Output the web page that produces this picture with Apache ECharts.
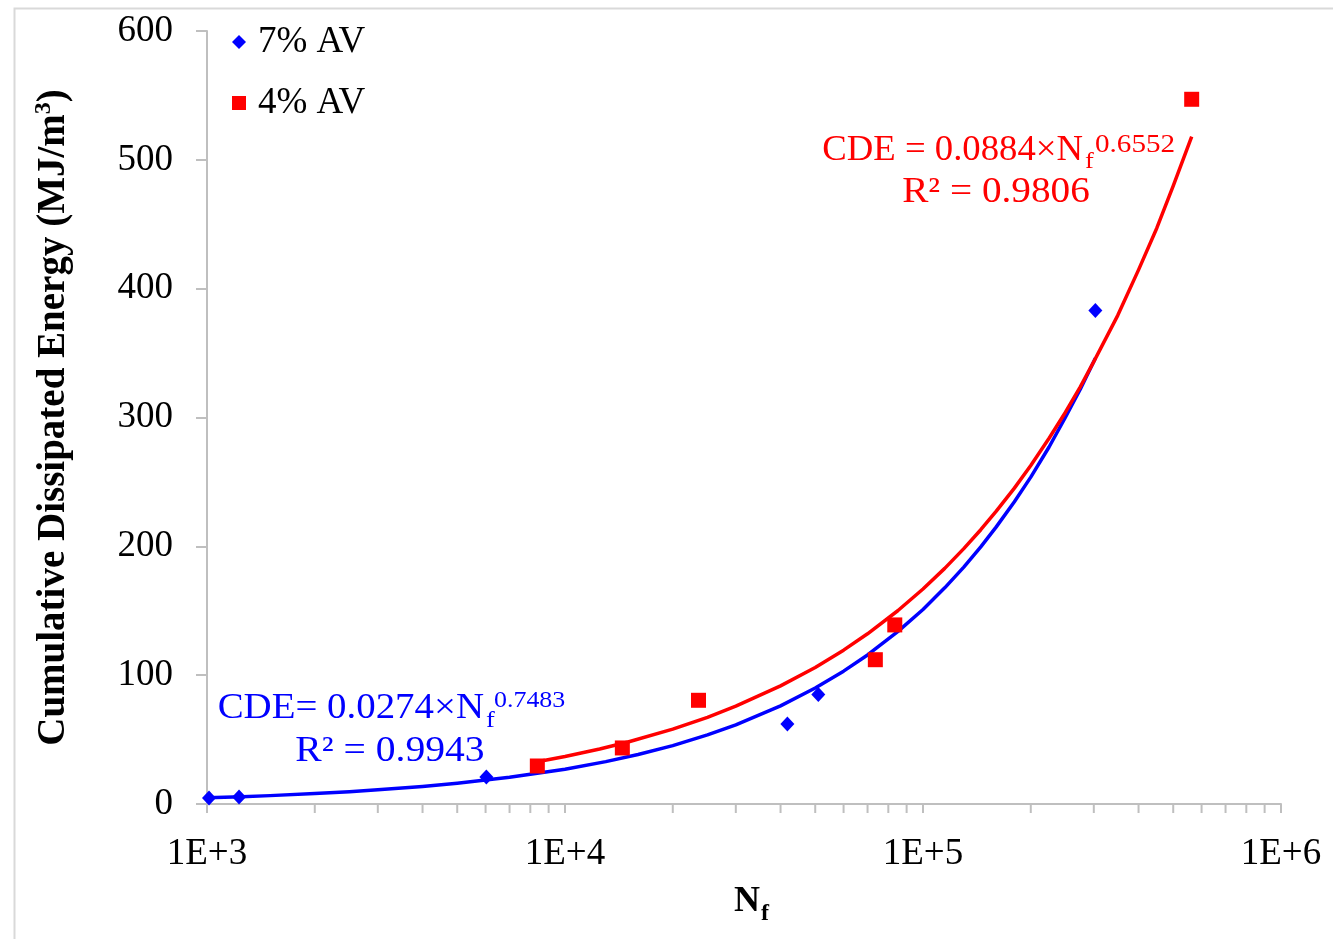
<!DOCTYPE html>
<html>
<head>
<meta charset="utf-8">
<script src="https://cdn.jsdelivr.net/npm/echarts@6/dist/echarts.min.js"></script>
<style>
html,body{margin:0;padding:0;background:#fff;}
#chart{width:1333px;height:939px;}
</style>
</head>
<body>
<div id="chart"></div>
<script>
// ---- data ----
const av7Nf  = [1013, 1229, 6030, 41800, 51000, 303000];
const av7CDE = [4.7, 5.4, 21, 62, 85, 383];
const av4Nf  = [8370, 14460, 23600, 73600, 83400, 563000];
const av4CDE = [29.5, 43.5, 80.5, 112, 139, 547];

// trend curves
const fit7Nf  = [1000, 1250, 1500, 2000, 2500, 3000, 4000, 5000, 7000, 10000, 13000, 16000, 20000, 25000, 30000, 40000, 50000, 60000, 70000, 85000, 100000, 115000, 130000, 145000, 160000, 180000, 200000, 225000, 250000, 275000, 303000];
const fit7CDE = [4.8, 5.7, 6.5, 8.1, 9.6, 11.0, 13.6, 16.1, 20.7, 27.0, 32.9, 38.4, 45.3, 53.6, 61.4, 76.2, 90.0, 103.1, 115.7, 133.8, 151, 167.8, 183.9, 199.6, 214.9, 234.6, 253.7, 277.1, 300.2, 321.9, 346];
const fit4Nf  = [8370, 10000, 12500, 15000, 20000, 25000, 30000, 40000, 50000, 60000, 70000, 85000, 100000, 115000, 130000, 145000, 160000, 180000, 200000, 225000, 250000, 275000, 300000, 350000, 400000, 450000, 500000, 563000];
const fit4CDE = [32.8, 36.9, 42.7, 48.1, 58.1, 67.3, 75.9, 91.7, 106, 119.4, 132.1, 150.0, 166.9, 182.9, 198.2, 212.9, 227.1, 245.2, 262.7, 283.9, 304.1, 323.8, 343.4, 379.3, 414.6, 447.1, 479.7, 518];

const xMajorValues = [1000, 10000, 100000, 1000000];
const xTickLabels  = ['1E+3', '1E+4', '1E+5', '1E+6'];
const xMinorValues = [2000,3000,4000,5000,6000,7000,8000,9000,
                      20000,30000,40000,50000,60000,70000,80000,90000,
                      200000,300000,400000,500000,600000,700000,800000,900000];
const yTicks = [0, 100, 200, 300, 400, 500, 600];

const seriesNames = ['7% AV', '4% AV'];
const fit7Text = {base: 'CDE= 0.0274×N', sub: 'f', sup: '0.7483', r2: 'R² = 0.9943'};
const fit4Text = {base: 'CDE = 0.0884×N', sub: 'f', sup: '0.6552', r2: 'R² = 0.9806'};

// ---- chart ----
const zip = (a, b) => a.map((v, i) => [v, b[i]]);
const FONT = '"Liberation Serif", "Times New Roman", serif';
const AXIS = '#bfbfbf';
const BLUE = '#0000ff', RED = '#ff0000';

const chart = echarts.init(document.getElementById('chart'), null, {renderer: 'canvas'});

function txt(x, y, text, size, color, align, bold, sx) {
  return {type: 'text', x: x, y: y, z: 100, scaleX: sx || 1,
    style: {text: text, fill: color, font: (bold ? 'bold ' : '') + size + 'px ' + FONT,
            textAlign: align, textVerticalAlign: 'middle'}};
}

const option = {
  animation: false,
  backgroundColor: '#fff',
  grid: {left: 207, top: 31, right: 52, bottom: 135, containLabel: false},
  xAxis: {
    type: 'log', logBase: 10, min: 1000, max: 1000000,
    axisLine: {show: true, lineStyle: {color: AXIS, width: 2}},
    axisTick: {show: true, inside: false, length: 9, lineStyle: {color: AXIS, width: 2}},
    minorTick: {show: false},
    splitLine: {show: false},
    axisLabel: {margin: 32, color: '#000', fontFamily: FONT, fontSize: 37,
      formatter: v => { const i = xMajorValues.findIndex(m => Math.abs(m - v) / m < 1e-6); return i >= 0 ? xTickLabels[i] : ''; }}
  },
  yAxis: {
    type: 'value', min: 0, max: 600, interval: 100,
    axisLine: {show: true, lineStyle: {color: AXIS, width: 2}},
    axisTick: {show: true, inside: false, length: 11, lineStyle: {color: AXIS, width: 2}},
    splitLine: {show: false},
    axisLabel: {margin: 34, color: '#000', fontFamily: FONT, fontSize: 37,
      formatter: v => yTicks.includes(v) ? String(v) : ''},
    name: '{b|Cumulative Dissipated Energy (MJ/m}{s|3}{b|)}',
    nameLocation: 'middle', nameRotate: 90, nameGap: 131,
    nameTextStyle: {
      rich: {
        b: {fontFamily: FONT, fontWeight: 'bold', fontSize: 39, color: '#000', lineHeight: 44},
        s: {fontFamily: FONT, fontWeight: 'bold', fontSize: 24, color: '#000', lineHeight: 24, verticalAlign: 'top'}
      }
    }
  },
  legend: {
    orient: 'vertical', left: 227, top: 15, itemGap: 17,
    itemWidth: 14, itemHeight: 14,
    textStyle: {fontFamily: FONT, fontSize: 37, color: '#000', lineHeight: 40, padding: [4, 0, 0, 7]},
    data: [{name: seriesNames[0], icon: 'diamond'}, {name: seriesNames[1], icon: 'rect'}]
  },
  series: [
    {name: 'fit7', type: 'line', data: zip(fit7Nf, fit7CDE), smooth: false, showSymbol: false,
     lineStyle: {color: BLUE, width: 3.5, join: 'round'}, z: 2, silent: true},
    {name: 'fit4', type: 'line', data: zip(fit4Nf, fit4CDE), smooth: false, showSymbol: false,
     lineStyle: {color: RED, width: 3.5, join: 'round'}, z: 2, silent: true},
    {name: seriesNames[0], type: 'scatter', data: zip(av7Nf, av7CDE), symbol: 'diamond', symbolSize: [14, 15],
     itemStyle: {color: BLUE, opacity: 1}, z: 5},
    {name: seriesNames[1], type: 'scatter', data: zip(av4Nf, av4CDE), symbol: 'rect', symbolSize: 15,
     itemStyle: {color: RED, opacity: 1}, z: 5},
    {name: 'minorTicks', type: 'custom', data: xMinorValues.map(v => [v, 0]), clip: false, silent: true, z: 1,
     renderItem: (params, api) => {
       const p = api.coord([api.value(0), 0]);
       return {type: 'line', shape: {x1: p[0], y1: p[1], x2: p[0], y2: p[1] + 9},
               style: {stroke: AXIS, lineWidth: 2}};
     }}
  ],
  graphic: [
    {type: 'rect', left: 12, top: 6, z: -10, silent: true,
     shape: {width: 1400, height: 1000}, style: {fill: 'none', stroke: '#d9d9d9', lineWidth: 2}},
    // blue fit annotation
    txt(484, 709, fit7Text.base, 36, BLUE, 'right', false, 1.08),
    txt(486, 721, fit7Text.sub, 24, BLUE, 'left', false, 1.1),
    txt(494, 701, fit7Text.sup, 24, BLUE, 'left', false, 1.08),
    txt(390, 752, fit7Text.r2, 36, BLUE, 'center', false, 1.1),
    // red fit annotation
    txt(1083, 151, fit4Text.base, 36, RED, 'right', false, 1.02),
    txt(1085, 162, fit4Text.sub, 24, RED, 'left', false, 1.1),
    txt(1095, 145, fit4Text.sup, 26, RED, 'left', false, 1.12),
    txt(996, 193, fit4Text.r2, 36, RED, 'center', false, 1.09),
    // x axis title N_f
    txt(760, 902, 'N', 36, '#000', 'right', true),
    txt(761, 914, 'f', 24, '#000', 'left', true)
  ]
};
chart.setOption(option);
</script>
</body>
</html>
